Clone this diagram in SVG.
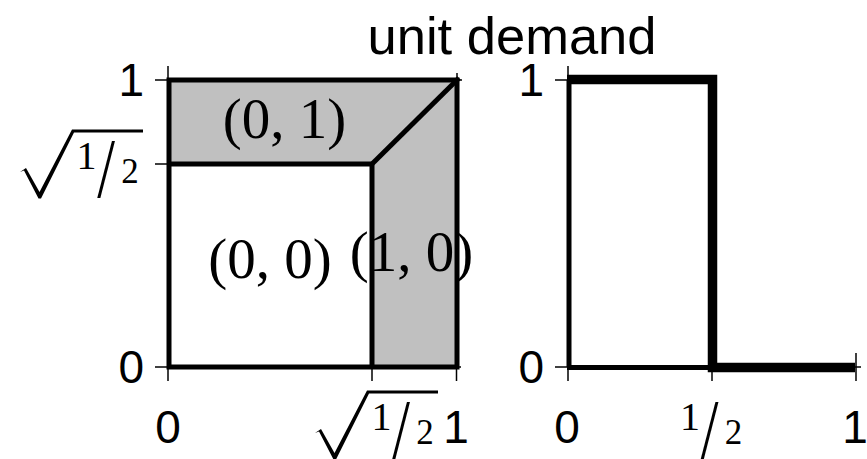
<svg xmlns="http://www.w3.org/2000/svg" width="867" height="459" viewBox="0 0 867 459">
<style>
.sans{font-family:"Liberation Sans",Arial,sans-serif;fill:#000}
.serif{font-family:"Liberation Serif","Times New Roman",serif;fill:#000}
.tick{stroke:#000;stroke-width:1.5;fill:none}
.edge{stroke:#000;stroke-width:5;fill:none;stroke-linejoin:miter}
.thick{stroke:#000;stroke-width:9.5;fill:none}
.shade{fill:#c0c0c0;stroke:none}
</style>
<defs>
<g id="frac">
<text class="serif" x="66.5" y="-2" font-size="40" text-anchor="middle">1</text>
<text class="serif" font-size="84" text-anchor="middle" transform="translate(86,26) scale(0.76,1)">/</text>
<text class="serif" x="110" y="12" font-size="35" text-anchor="middle">2</text>
</g>
<g id="sqrtfrac">
<polygon points="0,1 6,-3 19.5,21 52,-41.5 123,-41.5 123,-38.5 54,-38.5 21,27.5 18.5,27.5 4,-0.5" fill="#000"/>
<use href="#frac"/>
</g>
</defs>

<g id="title">
<text class="sans" x="512" y="54" font-size="52.5" text-anchor="middle">unit demand</text>
</g>

<g id="left-plot">
<polygon class="shade" points="169,80 457,80 372,164 169,164"/>
<polygon class="shade" points="372,164 457,80 457,367 372,367"/>
<rect class="edge" x="169" y="80" width="288" height="287"/>
<polyline class="edge" points="169,164 372,164 372,367"/>
<line class="edge" x1="372" y1="164" x2="459" y2="78"/>
<g id="left-ticks">
<line class="tick" x1="155" y1="80" x2="169" y2="80"/>
<line class="tick" x1="155" y1="164" x2="169" y2="164"/>
<line class="tick" x1="155" y1="367" x2="169" y2="367"/>
<line class="tick" x1="168" y1="66" x2="168" y2="80"/>
<line class="tick" x1="168" y1="367" x2="168" y2="381"/>
<line class="tick" x1="372" y1="367" x2="372" y2="381"/>
<line class="tick" x1="456.5" y1="367" x2="456.5" y2="381"/>
<line class="tick" x1="457" y1="367" x2="461" y2="367"/>
<line class="tick" x1="457" y1="73" x2="457" y2="80"/>
<line class="tick" x1="457" y1="80" x2="462" y2="80"/>
</g>
<text class="sans" x="144" y="96" font-size="46" text-anchor="end">1</text>
<text class="sans" x="144" y="383" font-size="46" text-anchor="end">0</text>
<text class="sans" x="168" y="443" font-size="46" text-anchor="middle">0</text>
<text class="sans" x="456" y="443" font-size="46" text-anchor="middle">1</text>
<use href="#sqrtfrac" transform="translate(20,171)"/>
<use href="#sqrtfrac" transform="translate(315,432)"/>
</g>

<g id="region-01">
<text class="serif" x="284.5" y="138" font-size="57" text-anchor="middle">(0, 1)</text>
</g>
<g id="region-00">
<text class="serif" x="270" y="278" font-size="57" text-anchor="middle">(0, 0)</text>
</g>
<g id="region-10">
<text class="serif" x="411.5" y="271" font-size="57" text-anchor="middle">(1, 0)</text>
</g>

<g id="right-plot">
<line class="edge" x1="569" y1="80" x2="569" y2="367"/>
<line class="edge" x1="567" y1="367.5" x2="712" y2="367.5"/>
<polyline class="thick" points="567,79.5 712.5,79.5 712.5,367.5 855,367.5" stroke-linejoin="miter"/>
<g id="right-ticks">
<line class="tick" x1="555" y1="80" x2="569" y2="80"/>
<line class="tick" x1="555" y1="367" x2="569" y2="367"/>
<line class="tick" x1="568" y1="66" x2="568" y2="80"/>
<line class="tick" x1="568" y1="367" x2="568" y2="381"/>
<line class="tick" x1="712" y1="367" x2="712" y2="381"/>
<line class="tick" x1="856" y1="353" x2="856" y2="381"/>
<line class="tick" x1="855" y1="367" x2="861" y2="367"/>
</g>
<text class="sans" x="544" y="96" font-size="46" text-anchor="end">1</text>
<text class="sans" x="544" y="383" font-size="46" text-anchor="end">0</text>
<text class="sans" x="567" y="443" font-size="46" text-anchor="middle">0</text>
<text class="sans" x="855" y="443" font-size="46" text-anchor="middle">1</text>
<use href="#frac" transform="translate(623.5,432)"/>
</g>
</svg>
